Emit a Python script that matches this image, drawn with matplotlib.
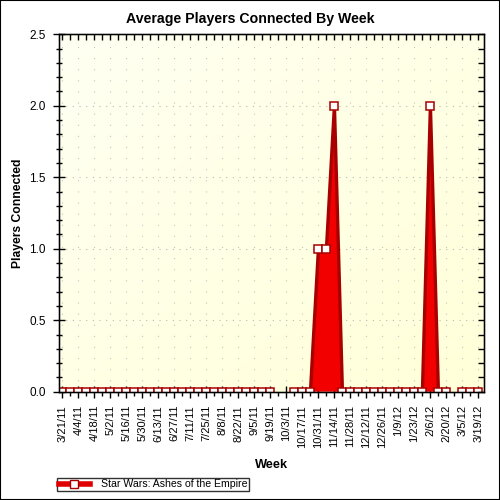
import numpy as np
import matplotlib
matplotlib.use("Agg")
import matplotlib.pyplot as plt
from matplotlib.patches import Rectangle

plt.rcParams['font.family'] = ['Liberation Sans', 'DejaVu Sans']

weeks = ["3/21/11", "3/28/11", "4/4/11", "4/11/11", "4/18/11", "4/25/11", "5/2/11", "5/9/11",
         "5/16/11", "5/23/11", "5/30/11", "6/6/11", "6/13/11", "6/20/11", "6/27/11", "7/4/11",
         "7/11/11", "7/18/11", "7/25/11", "8/1/11", "8/8/11", "8/15/11", "8/22/11", "8/29/11",
         "9/5/11", "9/12/11", "9/19/11", "9/26/11", "10/3/11", "10/10/11", "10/17/11", "10/24/11",
         "10/31/11", "11/7/11", "11/14/11", "11/21/11", "11/28/11", "12/5/11", "12/12/11", "12/19/11",
         "12/26/11", "1/2/12", "1/9/12", "1/16/12", "1/23/12", "1/30/12", "2/6/12", "2/13/12",
         "2/20/12", "2/27/12", "3/5/12", "3/12/12", "3/19/12"]
players = [0, 0, 0, 0, 0, 0, 0, 0, 0, 0, 0, 0, 0, 0, 0, 0, 0, 0, 0, 0, 0, 0, 0, 0, 0, 0, 0,
           None, None, 0, 0, 0, 1, 1, 2, 0, 0, 0, 0, 0, 0, 0, 0, 0, 0, 0, 2, 0, 0, None, 0, 0, 0]
series_name = "Star Wars: Ashes of the Empire"

x = np.arange(len(weeks))
y = np.array([np.nan if v is None else v for v in players], dtype=float)

fig = plt.figure(figsize=(5, 5), dpi=100, facecolor='white')
fig.patches.append(Rectangle((0, 0), 1, 1, transform=fig.transFigure, fill=False,
                             edgecolor='black', linewidth=1.5, zorder=10))
ax = fig.add_axes([0.117, 0.2166, 0.851, 0.7148])

# gradient background
grad = np.zeros((50, 50, 3))
gx, gy = np.meshgrid(np.linspace(0, 1, 50), np.linspace(0, 1, 50))
t = (gx + gy) / 2
c0 = np.array([1.0, 1.0, 0.95])
c1 = np.array([1.0, 1.0, 0.85])
for i in range(3):
    grad[:, :, i] = c0[i] * (1 - t) + c1[i] * t
ax.imshow(grad, extent=[0, 1, 0, 1], transform=ax.transAxes, aspect='auto', zorder=0)

ax.set_xlim(-0.5, 52.7)
ax.set_ylim(0, 2.5)

# grid
for gv in np.arange(0.5, 2.5, 0.5):
    ax.axhline(gv, color='#b8b8b8', lw=0.8, ls=(0, (1, 5)), zorder=1)
for gxv in range(0, len(weeks), 2):
    ax.axvline(gxv, color='#c4c4c4', lw=0.8, ls=(0, (1, 9)), zorder=1)

ax.fill_between(x, 0, y, color='#f20000', zorder=2, linewidth=0)
ax.plot(x, y, color='#a80000', lw=2.4, zorder=3, solid_joinstyle='miter')
ax.plot(x, y, ls='none', marker='s', markersize=5.2, markerfacecolor='white',
        markeredgecolor='#a80000', markeredgewidth=1.1, zorder=4)

ax.set_xticks(x[::2])
ax.set_xticklabels(weeks[::2], rotation=90, fontsize=8)
ax.set_xticks(x[1::2], minor=True)
ax.set_yticks(np.arange(0, 2.51, 0.5))
ax.set_yticklabels([f"{v:.1f}" for v in np.arange(0, 2.51, 0.5)], fontsize=8.5)
ax.set_yticks(np.arange(0, 2.51, 0.1), minor=True)
ax.tick_params(axis='x', which='major', direction='inout', length=9, width=1, pad=5)
ax.tick_params(axis='x', which='minor', direction='out', length=3, width=1)
ax.tick_params(axis='y', which='major', direction='inout', length=8, width=1, pad=5)
ax.tick_params(axis='y', which='minor', direction='inout', length=4, width=1)

for sp in ax.spines.values():
    sp.set_linewidth(1)
    sp.set_zorder(5)

axr = ax.twinx()
axr.set_ylim(0, 2.5)
axr.set_yticks(np.arange(0, 2.51, 0.1))
axr.set_yticklabels([])
axr.tick_params(axis='y', direction='in', length=4, width=1)
axt = ax.twiny()
axt.set_xlim(ax.get_xlim())
axt.set_xticks(x)
axt.set_xticklabels([])
axt.tick_params(axis='x', direction='in', length=4, width=1)

fig.text(0.5, 0.963, "Average Players Connected By Week", fontsize=10.2, fontweight='bold',
         ha='center', va='center')
ax.set_ylabel("Players Connected", fontsize=8.7, fontweight='bold', labelpad=4)
ax.set_xlabel("Week", fontsize=9.2, fontweight='bold', labelpad=8)

# legend
leg = fig.legend(handles=[plt.Line2D([], [], color='#e00000', lw=4, marker='s', markersize=5.5,
                                     markerfacecolor='white', markeredgecolor='#a80000')],
                 labels=[series_name], loc='lower left', bbox_to_anchor=(0.114, 0.018),
                 fontsize=7.6, frameon=True, fancybox=False, edgecolor='black',
                 handlelength=3.0, borderpad=0.15, handletextpad=1.0, borderaxespad=0)
leg.get_frame().set_linewidth(1)

fig.savefig("out.png", dpi=100, facecolor='white')
